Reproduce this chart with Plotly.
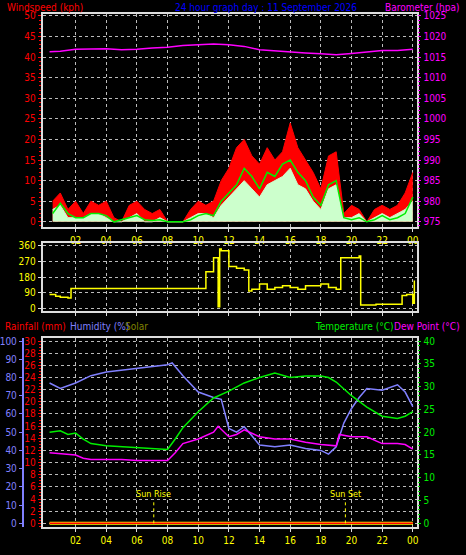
import plotly.graph_objects as go

# ---- wind (half hourly) ----
wind_t = [0.5 * i for i in range(1, 49)]
gust = [5, 7, 3, 5, 2, 5, 4, 5, 1, 0, 4, 5, 3, 2, 3, 0, 0, 0, 3, 5, 4, 5, 10, 13,
        18, 20, 16, 14, 18, 15, 17, 24, 18, 15, 12, 8, 16, 17, 2, 4, 3, 0, 3, 4, 3, 4, 7, 12]
speed = [3, 4, 1, 1, 1, 2, 2, 1, 0, 0, 1, 2, 0, 0, 1, 0, 0, 0, 1, 2, 2, 1, 4, 6,
         8, 10, 8, 6, 9, 10, 11, 13, 9, 8, 5, 3, 8, 9, 1, 1, 2, 0, 1, 2, 1, 2, 3, 5]
speed_avg = [2, 4.5, 2, 1, 1, 2, 2, 1.5, 0, 0.5, 1, 1.5, 0.5, 0.3, 0.5, 0, 0, 0, 0.5, 1.5, 2, 1.5, 5, 7,
             9, 13, 11, 8, 12, 11, 14, 15, 12, 10, 6, 4, 9, 10, 1, 0.5, 1, 0, 0.5, 1.5, 0.5, 1, 2, 6]

baro_t = [0.3] + list(range(1, 25))
baro = [1016.3, 1016.4, 1016.9, 1017.0, 1017.0, 1016.8, 1016.9, 1017.2, 1017.4, 1017.8, 1018.0,
        1018.2, 1018.0, 1017.6, 1016.8, 1016.5, 1016.2, 1016.0, 1015.8, 1015.6, 1015.9, 1016.3,
        1016.6, 1016.6, 1016.9]

dir_t = [0.3, 0.7, 1.0, 1.5, 1.7, 10.4, 10.5, 11.0, 11.3, 11.4, 11.5, 12.0, 12.5, 13.0, 13.3, 13.5,
         14.0, 14.5, 15.0, 15.5, 16.0, 16.5, 17.0, 17.5, 18.0, 18.5, 19.0, 19.3, 20.0, 20.5, 20.6,
         21.0, 21.6, 23.0, 23.3, 23.6, 24.0, 24.1]
direction = [80, 70, 65, 60, 115, 115, 210, 290, 10, 340, 330, 240, 230, 220, 100, 110,
             140, 110, 120, 130, 120, 110, 130, 130, 140, 120, 110, 290, 290, 300, 20,
             20, 25, 25, 75, 80, 30, 160]

# ---- temperature / humidity ----
hum_t = [0.3, 1, 2, 3, 4, 5, 6, 7, 8, 8.3, 9, 10, 11, 11.5, 12, 12.5, 13, 13.5, 14, 15, 16, 17,
         18, 18.5, 19, 19.5, 20, 20.5, 21, 22, 23, 23.5, 24]
humidity = [77, 74, 77, 81, 83, 84, 85, 86, 87, 88, 81, 72, 69, 68, 52, 50, 53, 48, 43, 42, 43, 41,
            40, 38, 42, 55, 63, 69, 74, 73, 76, 72, 64]
temp_t = [0.3, 1, 1.5, 2, 2.5, 3, 4, 5, 6, 7, 8, 8.5, 9, 10, 11, 12, 13, 14, 15, 16, 17, 18, 18.5,
          19, 20, 21, 22, 23, 23.5, 24]
temperature = [20, 20.3, 19.5, 19.8, 18.5, 17.5, 17, 16.8, 16.5, 16.3, 16.2, 18.5, 21, 24.5, 27.5,
               29, 30.8, 32, 33, 32, 32.3, 32.3, 32, 31, 28, 25.5, 23.5, 23, 23.5, 24.5]
dew_t = [0.3, 1, 2, 2.5, 3, 4, 5, 6, 7, 8, 8.5, 9, 10, 11, 11.3, 12, 12.5, 13, 14, 15, 16, 17, 18,
         19, 19.2, 20, 21, 22, 23, 23.5, 24]
dewpoint = [15.5, 15.3, 15.0, 14.3, 14, 14, 14, 13.8, 13.8, 13.8, 15.5, 17.5, 18.5, 20, 21.3, 19,
            19.5, 20.5, 19, 18.5, 18.5, 17.8, 17.3, 17, 19.5, 19, 19, 17.5, 17.5, 17.3, 16.3]
rain_t = [0.3, 24]
rain = [0, 0]
sun_events = [7.1, 19.6]
sun_names = ["Sun Rise", "Sun Set"]

hour_vals = list(range(2, 25, 2))
hour_text = ["%02d" % (h % 24) for h in hour_vals]

fnt = "DejaVu Sans Condensed"
fig = go.Figure()

fig.add_trace(go.Scatter(x=wind_t, y=gust, mode="lines", fill="tozeroy",
                         line=dict(color="red", width=1), fillcolor="red", xaxis="x", yaxis="y"))
fig.add_trace(go.Scatter(x=wind_t, y=speed, mode="lines", fill="tozeroy",
                         line=dict(color="#ccffcc", width=1), fillcolor="#ccffcc", xaxis="x", yaxis="y"))
fig.add_trace(go.Scatter(x=wind_t, y=speed_avg, mode="lines", line=dict(color="#00ee00", width=1.5),
                         xaxis="x", yaxis="y"))
fig.add_trace(go.Scatter(x=baro_t, y=baro, mode="lines", line=dict(color="#ff00ff", width=1.5),
                         xaxis="x", yaxis="y2"))
fig.add_trace(go.Scatter(x=dir_t, y=direction, mode="lines", line_shape="hv",
                         line=dict(color="yellow", width=1.5), xaxis="x2", yaxis="y3"))
fig.add_trace(go.Scatter(x=rain_t, y=rain, mode="lines", line=dict(color="yellow", width=3),
                         xaxis="x3", yaxis="y5"))
fig.add_trace(go.Scatter(x=rain_t, y=rain, mode="lines", line=dict(color="red", width=1.5),
                         xaxis="x3", yaxis="y5"))
fig.add_trace(go.Scatter(x=hum_t, y=humidity, mode="lines", line=dict(color="#8080ff", width=1.5),
                         xaxis="x3", yaxis="y6"))
fig.add_trace(go.Scatter(x=temp_t, y=temperature, mode="lines", line=dict(color="#00ee00", width=1.5),
                         xaxis="x3", yaxis="y7"))
fig.add_trace(go.Scatter(x=dew_t, y=dewpoint, mode="lines", line=dict(color="#ff00ff", width=1.5),
                         xaxis="x3", yaxis="y7"))
for t in sun_events:
    fig.add_trace(go.Scatter(x=[t, t], y=[0, 5], mode="lines", line=dict(color="yellow", width=1, dash="dot"),
                             xaxis="x3", yaxis="y7"))

xdom = [40 / 466, 418 / 466]
xrng = [-0.15, 24.3]
grid = dict(showgrid=True, gridcolor="#bbbbbb", griddash="dot", gridwidth=1, zeroline=False)
frame = dict(showline=True, linecolor="#dddddd", linewidth=2, mirror=True)
xcommon = dict(domain=xdom, range=xrng, tickvals=hour_vals, ticktext=hour_text,
               tickfont=dict(color="yellow", size=10, family=fnt), ticks="outside",
               tickcolor="#dddddd", ticklen=3, **grid, **frame)

def tf(c):
    return dict(color=c, size=10, family=fnt)

fig.update_layout(
    width=466, height=555, margin=dict(l=0, r=0, t=0, b=0),
    paper_bgcolor="black", plot_bgcolor="black", showlegend=False,
    xaxis=dict(anchor="y", **xcommon),
    xaxis2=dict(anchor="y3", **{**xcommon, "showticklabels": False}),
    xaxis3=dict(anchor="y5", **xcommon),
    yaxis=dict(domain=[1 - 226 / 555, 1 - 10 / 555], range=[-1.2, 50.5], dtick=5,
               tickfont=tf("red"), ticks="outside", tickcolor="red", ticklen=3,
               minor=dict(dtick=1, ticks="outside", ticklen=2, tickcolor="red"), **grid, **frame),
    yaxis2=dict(overlaying="y", side="right", anchor="x", range=[973.8, 1025.5], dtick=5,
                tickfont=tf("#ff00ff"), ticks="outside", tickcolor="#ff00ff", ticklen=3,
                minor=dict(dtick=1, ticks="outside", ticklen=2, tickcolor="#ff00ff"), showgrid=False),
    yaxis3=dict(domain=[1 - 311 / 555, 1 - 243 / 555], range=[-11, 371], tickvals=[0, 90, 180, 270, 360],
                tickfont=tf("yellow"), ticks="outside", tickcolor="#dddddd", ticklen=3, **grid, **frame),
    yaxis4=dict(overlaying="y3", side="right", anchor="x2", range=[-11, 371],
                tickvals=[0, 90, 180, 270, 360], ticktext=["N", "E", "S", "W", "N"],
                tickfont=dict(color="yellow", size=13, family=fnt), ticklabelstandoff=16, showgrid=False),
    yaxis5=dict(domain=[1 - 531 / 555, 1 - 339 / 555], range=[-0.66, 30.48], dtick=2,
                tickfont=tf("red"), ticks="outside", tickcolor="red", ticklen=3,
                minor=dict(dtick=0.5, ticks="outside", ticklen=2, tickcolor="red"), **grid, **frame),
    yaxis6=dict(overlaying="y5", anchor="free", position=20 / 466, side="left", range=[-2.2, 101.6],
                dtick=10, tickfont=tf("#8080ff"), showline=True, linecolor="#8080ff", linewidth=2,
                ticks="outside", tickcolor="#8080ff", ticklen=3, showgrid=False, zeroline=False),
    yaxis7=dict(overlaying="y5", side="right", anchor="x3", range=[-0.88, 40.64], dtick=5,
                tickfont=tf("#00ee00"), ticks="outside", tickcolor="#00ee00", ticklen=3,
                minor=dict(dtick=1, ticks="outside", ticklen=2, tickcolor="#00ee00"),
                showgrid=False, zeroline=False),
)

def label(x, y, text, color, size=10, xanchor="left"):
    fig.add_annotation(x=x / 466, y=1 - y / 555, xref="paper", yref="paper", text=text,
                       showarrow=False, xanchor=xanchor, yanchor="middle",
                       font=dict(color=color, size=size, family=fnt))

label(2, 4, "Windspeed (kph)", "red")
label(265, 4, "24 hour graph day : 11 September 2026", "blue", xanchor="center")
label(463, 4, "Barometer (hpa)", "#ff00ff", xanchor="right")
label(0, 327, "Rainfall (mm)", "red")
label(66, 327, "Humidity (%)", "#8080ff")
label(121, 327, "Solar", "#808000")
label(313, 327, "Temperature (°C)", "#00ee00")
label(463, 327, "Dew Point (°C)", "#ff00ff", xanchor="right")
for t, name in zip(sun_events, sun_names):
    fig.add_annotation(x=t, y=6.5, xref="x3", yref="y7", text=name, showarrow=False,
                       font=dict(color="yellow", size=9, family=fnt))

fig.write_html("out.html", config={"displayModeBar": False},
               post_script="document.body.style.margin='0';document.body.style.overflow='hidden';")
